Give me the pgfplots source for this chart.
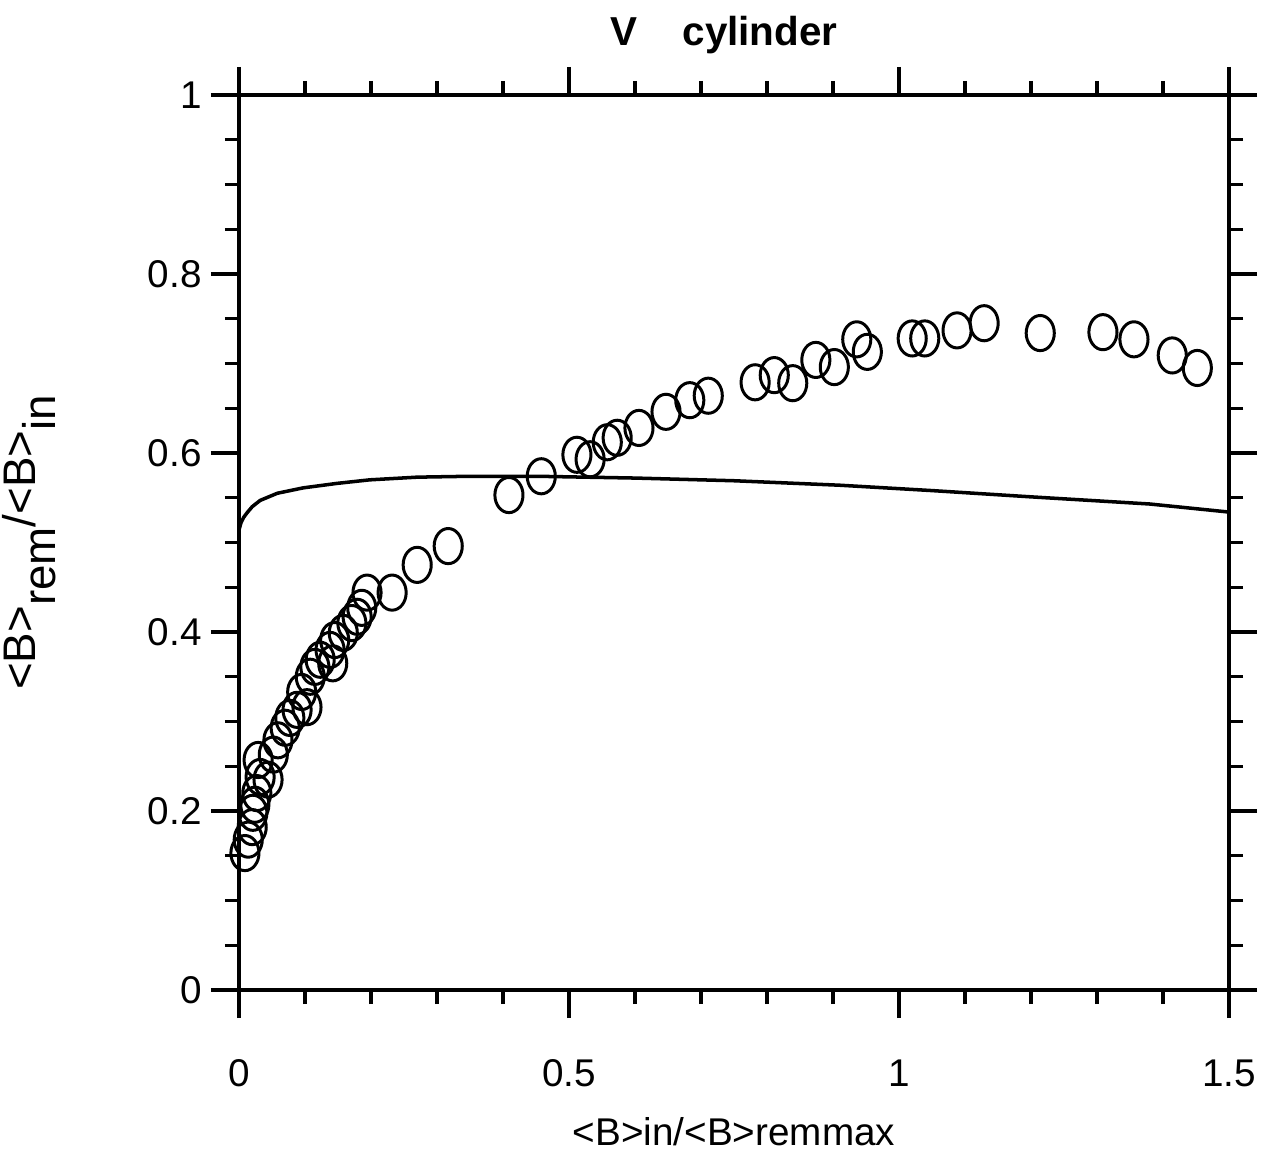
\documentclass[border=0pt]{standalone}
\usepackage{pgfplots}
\pgfplotsset{compat=1.18}
\usepackage{fontspec}
\setmainfont{Liberation Sans}
\begin{document}
\begin{tikzpicture}
\useasboundingbox (-2.39,-1.62) rectangle (10.26,9.90);
\begin{axis}[
  at={(0,0)}, anchor=south west,
  scale only axis,
  width=9.9cm, height=8.95cm,
  xmin=0, xmax=1.5, ymin=0, ymax=1,
  xtick={0,0.5,1,1.5},
  xticklabels={0,0.5,1,1.5},
  ytick={0,0.2,0.4,0.6,0.8,1},
  yticklabels={0,0.2,0.4,0.6,0.8,1},
  minor x tick num=4,
  minor y tick num=3,
  tick align=outside,
  major tick length=0.28cm,
  minor tick length=0.14cm,
  axis line style={line width=1.1pt},
  every tick/.style={line width=0.9pt, black},
  tick label style={font=\fontsize{11}{13}\selectfont},
  xticklabel style={yshift=-0.29cm},
  yticklabel style={xshift=0.03cm},
  every axis title shift=0pt,
  title={\textbf{V\hspace{0.45cm}cylinder}},
  title style={at={(axis description cs:0.49,1.067)},anchor=center,font=\fontsize{11.5}{13}\selectfont},
  xlabel={<B>in/<B>remmax},
  xlabel style={at={(axis description cs:0.5,-0.158)},anchor=center,font=\fontsize{11}{13}\selectfont},
  ylabel={<B>\raisebox{-0.2cm}{rem}/<B>\raisebox{-0.2cm}{in}},
  ylabel style={at={(axis description cs:-0.212,0.5)},anchor=center,font=\fontsize{13}{15}\selectfont},
]
\addplot[only marks, mark=o, mark size=4pt, mark options={yscale=1.25, line width=0.85pt, black}] coordinates {
(0.009,0.153) (0.014,0.168) (0.020,0.182) (0.021,0.198) (0.024,0.207)
(0.027,0.220) (0.032,0.238) (0.044,0.235) (0.029,0.257) (0.052,0.263)
(0.059,0.279) (0.070,0.293) (0.077,0.304) (0.088,0.313) (0.103,0.316)
(0.095,0.333) (0.108,0.350) (0.115,0.361) (0.123,0.369) (0.142,0.365)
(0.138,0.380) (0.145,0.391) (0.158,0.399) (0.171,0.410) (0.179,0.417)
(0.186,0.427) (0.194,0.444) (0.232,0.444) (0.270,0.475) (0.317,0.496)
(0.409,0.553) (0.458,0.574) (0.512,0.598) (0.532,0.593) (0.558,0.612)
(0.573,0.617) (0.606,0.628) (0.647,0.646) (0.683,0.659) (0.711,0.664)
(0.782,0.679) (0.811,0.687) (0.839,0.678) (0.874,0.704) (0.902,0.696)
(0.936,0.727) (0.952,0.713) (1.020,0.728) (1.039,0.728) (1.088,0.737)
(1.129,0.745) (1.214,0.734) (1.309,0.735) (1.356,0.727) (1.414,0.709)
(1.452,0.695)
};
\addplot[black, line width=1pt] coordinates {
(0,0.514) (0.003,0.522) (0.007,0.528) (0.012,0.533) (0.02,0.540) (0.032,0.547) (0.045,0.551) (0.058,0.555)
(0.097,0.561) (0.148,0.566) (0.198,0.570) (0.27,0.573) (0.35,0.574)
(0.45,0.574) (0.6,0.572) (0.75,0.569) (0.91,0.564) (1.05,0.558)
(1.2,0.551) (1.38,0.543) (1.5,0.534)
};
\end{axis}
\end{tikzpicture}
\end{document}
